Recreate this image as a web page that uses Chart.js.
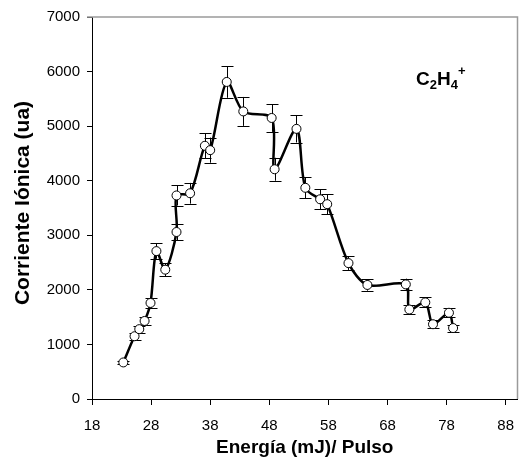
<!DOCTYPE html>
<html>
<head>
<meta charset="utf-8">
<script src="https://cdn.jsdelivr.net/npm/chart.js@4.4.1/dist/chart.umd.min.js"></script>
<style>
  html, body { margin: 0; padding: 0; background: #fff; }
  #wrap { width: 523px; height: 468px; }
</style>
</head>
<body>
<div id="wrap"><canvas id="c" width="523" height="468"></canvas></div>
<script>
// Energy (mJ/pulse)
const energia = [23.3, 25.2, 26.0, 26.9, 27.9, 28.9, 30.4, 32.3, 32.3, 34.6, 37.1, 38.0, 40.8, 43.6,
                 48.4, 48.9, 52.6, 54.1, 56.6, 57.8, 61.4, 64.6, 71.1, 71.7, 74.4, 75.7, 78.4, 79.1];
// Ion current (a.u.)
const corriente = [670, 1150, 1280, 1430, 1760, 2710, 2370, 3060, 3730, 3770, 4640, 4560, 5810, 5270,
                   5150, 4210, 4950, 3870, 3660, 3570, 2490, 2090, 2100, 1640, 1770, 1370, 1580, 1300];
// Error bar half-widths (a.u.)
const errores = [35, 60, 65, 75, 90, 140, 120, 155, 185, 190, 230, 230, 290, 265,
                 255, 210, 250, 195, 185, 180, 125, 105, 105, 80, 90, 70, 80, 65];
// Tick labels
const xTicks = [18, 28, 38, 48, 58, 68, 78, 88];
const yTicks = [0, 1000, 2000, 3000, 4000, 5000, 6000, 7000];
const yTitle = 'Corriente Iónica (ua)';
const xTitle = 'Energía (mJ)/ Pulso';

const FONT = "'Liberation Sans', Arial, sans-serif";

const errorBars = {
  id: 'errorBars',
  beforeDatasetsDraw(chart) {
    const { ctx, scales: { x, y } } = chart;
    ctx.save();
    ctx.strokeStyle = '#000';
    ctx.lineWidth = 1;
    energia.forEach((e, i) => {
      const px = Math.round(x.getPixelForValue(e)) + 0.5;
      const yt = y.getPixelForValue(corriente[i] + errores[i]);
      const yb = y.getPixelForValue(corriente[i] - errores[i]);
      ctx.beginPath();
      ctx.moveTo(px, yt); ctx.lineTo(px, yb);
      ctx.moveTo(px - 6, Math.round(yt) + 0.5); ctx.lineTo(px + 6, Math.round(yt) + 0.5);
      ctx.moveTo(px - 6, Math.round(yb) + 0.5); ctx.lineTo(px + 6, Math.round(yb) + 0.5);
      ctx.stroke();
    });
    ctx.restore();
  }
};

const frameAndLabel = {
  id: 'frameAndLabel',
  afterDraw(chart) {
    const { ctx, chartArea: a } = chart;
    ctx.save();
    ctx.strokeStyle = '#9a9a9a';
    ctx.lineWidth = 1.5;
    ctx.beginPath();
    ctx.moveTo(a.left - 5, a.top);
    ctx.lineTo(a.right, a.top);
    ctx.lineTo(a.right, a.bottom);
    ctx.stroke();
    // y-axis title
    ctx.fillStyle = '#000';
    ctx.save();
    ctx.translate(23, 203);
    ctx.rotate(-Math.PI / 2);
    ctx.font = "bold 21px " + FONT;
    ctx.textAlign = 'center';
    ctx.textBaseline = 'middle';
    ctx.fillText(yTitle, 0, 0);
    ctx.restore();
    // species label C2H4+
    ctx.textAlign = 'left';
    ctx.textBaseline = 'alphabetic';
    let xx = 416, base = 85;
    const big = "bold 19px " + FONT, small = "bold 13px " + FONT;
    const parts = [["C", big, 0], ["2", small, 4], ["H", big, 0], ["4", small, 4], ["+", small, -10]];
    parts.forEach(([t, f, dy]) => {
      ctx.font = f;
      ctx.fillText(t, xx, base + dy);
      xx += ctx.measureText(t).width;
    });
    ctx.restore();
  }
};

new Chart(document.getElementById('c'), {
  type: 'line',
  data: {
    datasets: [{
      data: energia.map((e, i) => ({ x: e, y: corriente[i] })),
      borderColor: '#000',
      borderWidth: 2.5,
      tension: 0.3,
      pointRadius: 4.5,
      pointBackgroundColor: '#fff',
      pointBorderColor: '#000',
      pointBorderWidth: 1,
      fill: false
    }]
  },
  options: {
    responsive: false,
    devicePixelRatio: 1,
    animation: false,
    locale: 'en-US',
    layout: { padding: { top: 17, right: -3, left: 0, bottom: 0 } },
    plugins: { legend: { display: false }, tooltip: { enabled: false } },
    scales: {
      x: {
        type: 'linear',
        min: 18,
        max: 90,
        afterBuildTicks: s => { s.ticks = xTicks.map(v => ({ value: v })); },
        afterFit: s => { s.height = 69; s.paddingLeft = 0; s.paddingRight = 0; },
        grid: { drawOnChartArea: false, drawTicks: true, tickLength: 6, color: '#000' },
        border: { color: '#000', width: 1 },
        ticks: { color: '#000', font: { family: FONT, size: 15 }, padding: 12, maxRotation: 0,
                 callback: v => String(v) },
        title: { display: true, text: xTitle, color: '#000',
                 font: { family: FONT, size: 19, weight: 'bold' }, padding: { top: 0, bottom: 8.5 } }
      },
      y: {
        type: 'linear',
        min: 0,
        max: 7000,
        afterBuildTicks: s => { s.ticks = yTicks.map(v => ({ value: v })); },
        afterFit: s => { s.width = 92; s.paddingTop = 0; s.paddingBottom = 0; },
        grid: { drawOnChartArea: false, drawTicks: true, tickLength: 5, color: '#000' },
        border: { color: '#000', width: 1 },
        ticks: { color: '#000', font: { family: FONT, size: 15 }, padding: 7,
                 callback: v => String(v) }
      }
    }
  },
  plugins: [errorBars, frameAndLabel]
});
</script>
</body>
</html>
